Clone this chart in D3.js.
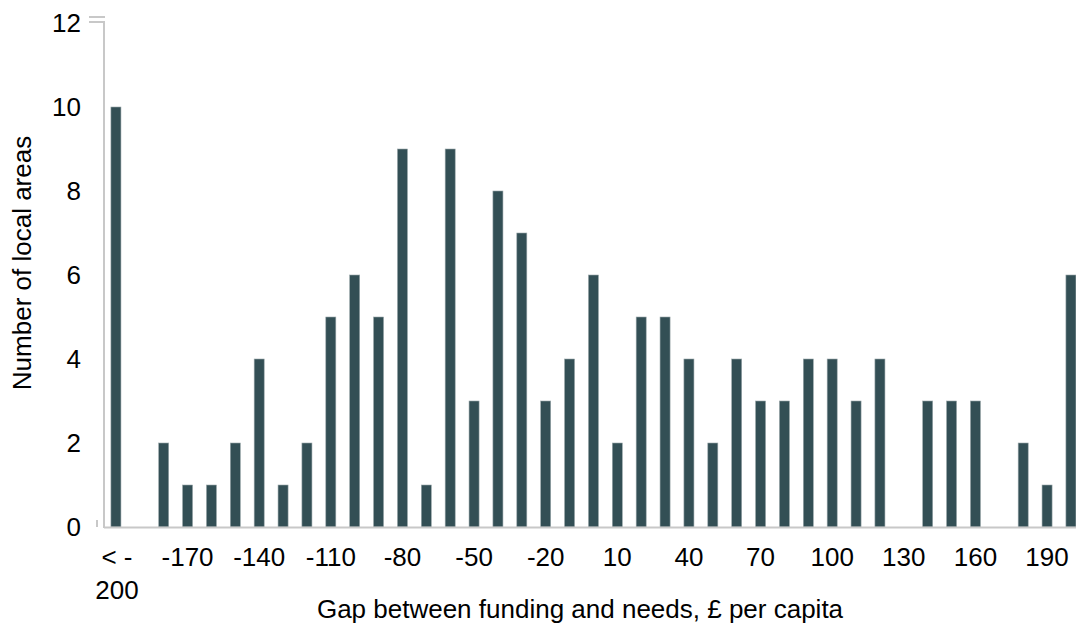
<!DOCTYPE html>
<html><head><meta charset="utf-8">
<script src="https://cdn.jsdelivr.net/npm/d3@7"></script>
<style>body{margin:0;background:#fff}svg{display:block;font-family:"Liberation Sans",Arial,sans-serif}</style>
</head><body><svg id="c" width="1076" height="628"></svg>
<script>
const categories = ["< -200","-190","-180","-170","-160","-150","-140","-130","-120","-110","-100","-90","-80","-70","-60","-50","-40","-30","-20","-10","0","10","20","30","40","50","60","70","80","90","100","110","120","130","140","150","160","170","180","190","> 200"];
const counts = [10,0,2,1,1,2,4,1,2,5,6,5,9,1,9,3,8,7,3,4,6,2,5,5,4,2,4,3,3,4,4,3,4,0,3,3,3,0,2,1,6];
const yTicks = [0,2,4,6,8,10,12];
const shownLabels = ["< -200","-170","-140","-110","-80","-50","-20","10","40","70","100","130","160","190"];
const xTitle = "Gap between funding and needs, £ per capita";
const yTitle = "Number of local areas";

const svg = d3.select("#c");
const left = 104, step = 23.875;
const fs = 26;
const x = d3.scaleBand().domain(categories).range([left, left + step*categories.length]).paddingInner(0.58).paddingOuter(0.29);
const y = d3.scaleLinear().domain([0,12]).range([527,23]);

// bars
svg.append("g").selectAll("rect").data(counts).join("rect")
  .attr("x",(d,i)=>x(categories[i]))
  .attr("y",d=>y(d))
  .attr("width",x.bandwidth())
  .attr("height",d=>y(0)-y(d))
  .attr("fill","#334f55")
  .attr("stroke","#9aa7aa").attr("stroke-width",0.6);

// axes lines
svg.append("line").attr("x1",left).attr("x2",1076).attr("y1",y(0)+0.5).attr("y2",y(0)+0.5).attr("stroke","#c8c8c8").attr("stroke-width",2);
svg.append("line").attr("x1",left).attr("x2",left).attr("y1",y(12)).attr("y2",y(0)+1).attr("stroke","#c8c8c8").attr("stroke-width",2);
svg.append("line").attr("x1",89).attr("x2",105).attr("y1",y(12)-6).attr("y2",y(12)-6).attr("stroke","#c8c8c8").attr("stroke-width",2);
svg.append("line").attr("x1",89).attr("x2",105).attr("y1",y(12)-1).attr("y2",y(12)-1).attr("stroke","#c8c8c8").attr("stroke-width",2);
svg.append("line").attr("x1",97).attr("x2",97).attr("y1",y(0)-7).attr("y2",y(0)).attr("stroke","#c8c8c8").attr("stroke-width",2);

// y tick labels
svg.append("g").selectAll("text").data(yTicks).join("text")
  .attr("x",81).attr("y",d=>y(d)).attr("dy","0.35em")
  .attr("text-anchor","end").attr("font-size",fs).attr("fill","#000")
  .text(d=>d);

// x tick labels
const xl = svg.append("g").selectAll("text").data(shownLabels).join("text")
  .attr("x",d=>x(d)+x.bandwidth()/2).attr("y",566)
  .attr("text-anchor","middle").attr("font-size",fs).attr("fill","#000");
xl.each(function(d){
  const t = d3.select(this);
  if(d.startsWith("<")){
    t.append("tspan").attr("x",x(d)+x.bandwidth()/2+1).text("< -");
    t.append("tspan").attr("x",x(d)+x.bandwidth()/2+1).attr("dy",33).text("200");
  } else t.text(d);
});

// titles
svg.append("text").attr("x",580).attr("y",618).attr("text-anchor","middle").attr("font-size",fs).text(xTitle);
svg.append("text").attr("transform","translate(31,263) rotate(-90)").attr("text-anchor","middle").attr("font-size",fs).text(yTitle);
</script></body></html>
